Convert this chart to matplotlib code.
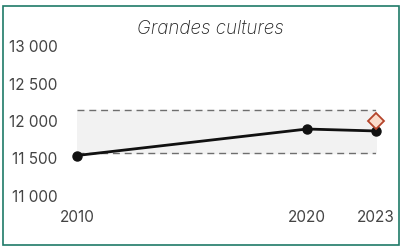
import matplotlib.pyplot as plt
from matplotlib.patches import Rectangle

plt.rcParams['font.family'] = ['Inter', 'DejaVu Sans']

years = [2010, 2020, 2023]
values = [11540, 11893, 11867]
target_year = 2023
target_value = 12000
band_low = 11580
band_high = 12150
yticks = [11000, 11500, 12000, 12500, 13000]
ytick_labels = ['11 000', '11 500', '12 000', '12 500', '13 000']
xtick_labels = ['2010', '2020', '2023']

W, H = 404, 250
fig = plt.figure(figsize=(W / 100, H / 100), dpi=100)

# cadre vert
fig.patches.append(Rectangle((3 / W, 5 / H), 396 / W, 239 / H, transform=fig.transFigure,
                             fill=False, edgecolor='#1f7a68', linewidth=1.2))

ax = fig.add_axes([77 / W, (H - 196) / H, 299 / W, 150 / H])
ax.set_xlim(2010, 2023)
ax.set_ylim(11000, 13000)

ax.fill_between([2010, 2023], band_low, band_high, color='#f2f2f2', zorder=1)
ax.hlines([band_low, band_high], 2010, 2023, colors='#6e6e6e', linestyles=(0, (5, 3.5)),
          linewidth=1.0, zorder=2)

ax.plot(years, values, color='#111111', linewidth=2, marker='o', markersize=6.5,
        zorder=4, clip_on=False)
ax.plot([target_year], [target_value], marker='D', markersize=8, markerfacecolor='#fbdccb',
        markeredgecolor='#b5452b', markeredgewidth=1.3, linestyle='none', zorder=5, clip_on=False)

for s in ax.spines.values():
    s.set_visible(False)
ax.set_yticks(yticks)
ax.set_yticklabels(ytick_labels)
ax.set_xticks(years)
ax.set_xticklabels(xtick_labels)
ax.tick_params(axis='y', length=0, pad=14, labelsize=11, labelcolor='#444444')
ax.tick_params(axis='x', length=0, pad=10, labelsize=11, labelcolor='#444444')

fig.text(210 / W, 1 - 29 / H, 'Grandes cultures', ha='center', va='center',
         fontsize=13.5, style='italic', fontweight='light', color='#222222')

fig.savefig('out.png', dpi=100)
